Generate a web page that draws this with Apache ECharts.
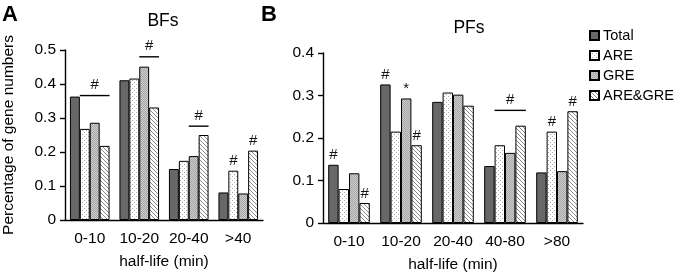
<!DOCTYPE html>
<html>
<head>
<meta charset="utf-8">
<script src="https://cdn.jsdelivr.net/npm/echarts@6/dist/echarts.min.js"></script>
<style>
  html, body { margin: 0; padding: 0; background: #fff; }
  #chart { width: 677px; height: 273px; }
</style>
</head>
<body>
<div id="chart"></div>
<script>
// categories
const bfCats = ['0-10', '10-20', '20-40', '>40']
const pfCats = ['0-10', '10-20', '20-40', '40-80', '>80']
const seriesNames = ['Total', 'ARE', 'GRE', 'ARE&GRE']

// BFs values
const bfTotal = [0.363, 0.411, 0.150, 0.081]
const bfARE = [0.268, 0.416, 0.174, 0.145]
const bfGRE = [0.286, 0.451, 0.188, 0.078]
const bfBoth = [0.218, 0.331, 0.250, 0.204]

// PFs values
const pfTotal = [0.137, 0.326, 0.285, 0.134, 0.119]
const pfARE = [0.080, 0.215, 0.307, 0.183, 0.215]
const pfGRE = [0.117, 0.293, 0.302, 0.165, 0.122]
const pfBoth = [0.047, 0.183, 0.276, 0.229, 0.263]

// significance marks above single bars
const bfMarks = [['', '', '', ''], ['', '', '', '#'], ['', '', '', ''], ['', '', '', '#']]
const pfMarks = [
  ['#', '#', '', '', ''],
  ['', '', '', '', '#'],
  ['', '*', '', '', ''],
  ['#', '#', '', '', '#'],
]
// group marks: [category, level, first bar, last bar, text]
const bfGroupMarks = [[0, 0.366, 1, 3, '#'], [1, 0.48, 2, 3, '#'], [2, 0.276, 2, 3, '#']]
const pfGroupMarks = [[3, 0.265, 1, 3, '#']]

// tick labels
const bfTicks = [0, 0.1, 0.2, 0.3, 0.4, 0.5]
const pfTicks = [0, 0.1, 0.2, 0.3, 0.4]

const FONT = 'Liberation Sans, Arial, sans-serif'

function pattern(size, draw) {
  const c = document.createElement('canvas')
  c.width = size
  c.height = size
  draw(c.getContext('2d'))
  return { image: c, repeat: 'repeat' }
}
const fills = [
  '#686868',
  pattern(4, (g) => {
    g.fillStyle = '#fff'
    g.fillRect(0, 0, 4, 4)
    g.fillStyle = '#aaa'
    g.fillRect(0, 0, 1, 1)
    g.fillRect(2, 2, 1, 1)
  }),
  pattern(2, (g) => {
    g.fillStyle = '#cdcdcd'
    g.fillRect(0, 0, 2, 2)
    g.fillStyle = '#a6a6a6'
    g.fillRect(0, 0, 1, 1)
    g.fillRect(1, 1, 1, 1)
  }),
  pattern(4, (g) => {
    g.fillStyle = '#fff'
    g.fillRect(0, 0, 4, 4)
    g.fillStyle = '#8a8a8a'
    for (let i = 0; i < 4; i++) g.fillRect(i, i, 1, 1)
  }),
]

function barSeries(name, i, data, marks, axis) {
  return {
    name: name,
    type: 'bar',
    xAxisIndex: axis,
    yAxisIndex: axis,
    data: data,
    barGap: '0%',
    barCategoryGap: '20%',
    itemStyle: { color: fills[i], borderColor: '#000', borderWidth: 1 },
    label: {
      show: true,
      position: 'top',
      distance: 2,
      fontFamily: FONT,
      fontSize: 15,
      color: '#111',
      formatter: (p) => marks[i][p.dataIndex],
    },
    emphasis: { disabled: true },
    animation: false,
  }
}

function groupMarkSeries(marks, axis) {
  return {
    type: 'custom',
    xAxisIndex: axis,
    yAxisIndex: axis,
    data: marks,
    silent: true,
    animation: false,
    renderItem: (params, api) => {
      const p = api.coord([api.value(0), api.value(1)])
      const band = api.size([1, 0])[0]
      const barW = (band * 0.8) / 4
      const x0 = p[0] - 2 * barW + api.value(2) * barW
      const x1 = p[0] - 2 * barW + (api.value(3) + 1) * barW
      return {
        type: 'group',
        children: [
          { type: 'line', shape: { x1: x0, y1: p[1], x2: x1, y2: p[1] }, style: { stroke: '#000', lineWidth: 1.4 } },
          {
            type: 'text',
            style: {
              text: marks[params.dataIndex][4],
              x: (x0 + x1) / 2,
              y: p[1] - 3,
              align: 'center',
              verticalAlign: 'bottom',
              font: '15px ' + FONT,
              fill: '#111',
            },
          },
        ],
      }
    },
  }
}

function xAxis(cats, grid) {
  return {
    type: 'category',
    gridIndex: grid,
    data: cats,
    name: 'half-life (min)',
    nameLocation: 'middle',
    nameGap: 34,
    nameTextStyle: { fontFamily: FONT, fontSize: 15.5, color: '#000' },
    axisLine: { lineStyle: { color: '#000', width: 1.4 } },
    axisTick: { length: 5, interval: 0, lineStyle: { color: '#000', width: 1.4 } },
    axisLabel: { interval: 0, margin: 11, fontFamily: FONT, fontSize: 15.5, color: '#000' },
  }
}

function yAxis(ticks, grid, name) {
  return {
    type: 'value',
    gridIndex: grid,
    min: ticks[0],
    max: ticks[ticks.length - 1],
    interval: ticks[1] - ticks[0],
    name: name,
    nameLocation: 'middle',
    nameGap: 48,
    nameTextStyle: { fontFamily: FONT, fontSize: 15.5, color: '#000' },
    splitLine: { show: false },
    axisLine: { show: true, lineStyle: { color: '#000', width: 1.4 } },
    axisTick: { show: true, length: 5, lineStyle: { color: '#000', width: 1.4 } },
    axisLabel: {
      margin: 9,
      fontFamily: FONT,
      fontSize: 15.5,
      color: '#000',
      formatter: (v) => (v === 0 ? '0' : v.toFixed(1)),
    },
  }
}

const bfValues = [bfTotal, bfARE, bfGRE, bfBoth]
const pfValues = [pfTotal, pfARE, pfGRE, pfBoth]

const option = {
  backgroundColor: '#fff',
  animation: false,
  grid: [
    { left: 65, top: 50, width: 198, height: 170, outerBoundsMode: 'none' },
    { left: 323, top: 53, width: 260, height: 170, outerBoundsMode: 'none' },
  ],
  xAxis: [xAxis(bfCats, 0), xAxis(pfCats, 1)],
  yAxis: [yAxis(bfTicks, 0, 'Percentage of gene numbers'), yAxis(pfTicks, 1, '')],
  legend: {
    data: seriesNames,
    orient: 'vertical',
    left: 589,
    top: 28,
    padding: 0,
    itemWidth: 9,
    itemHeight: 9,
    itemGap: 5,
    icon: 'rect',
    selectedMode: false,
    textStyle: { fontFamily: FONT, fontSize: 14.5, color: '#000', padding: [0, 0, 0, -1] },
  },
  graphic: [
    { type: 'text', x: 2, y: 4, style: { text: 'A', font: 'bold 22px ' + FONT, fill: '#000' } },
    { type: 'text', x: 261, y: 4, style: { text: 'B', font: 'bold 22px ' + FONT, fill: '#000' } },
    { type: 'text', x: 163, y: 21, style: { text: 'BFs', align: 'center', verticalAlign: 'middle', font: '17.5px ' + FONT, fill: '#000' } },
    { type: 'text', x: 469, y: 28, style: { text: 'PFs', align: 'center', verticalAlign: 'middle', font: '17.5px ' + FONT, fill: '#000' } },
  ],
  series: [
    ...seriesNames.map((n, i) => barSeries(n, i, bfValues[i], bfMarks, 0)),
    ...seriesNames.map((n, i) => barSeries(n, i, pfValues[i], pfMarks, 1)),
    groupMarkSeries(bfGroupMarks, 0),
    groupMarkSeries(pfGroupMarks, 1),
  ],
}

const chart = echarts.init(document.getElementById('chart'))
chart.setOption(option)
window.addEventListener('resize', function () {
  chart.resize()
})
</script>
</body>
</html>
